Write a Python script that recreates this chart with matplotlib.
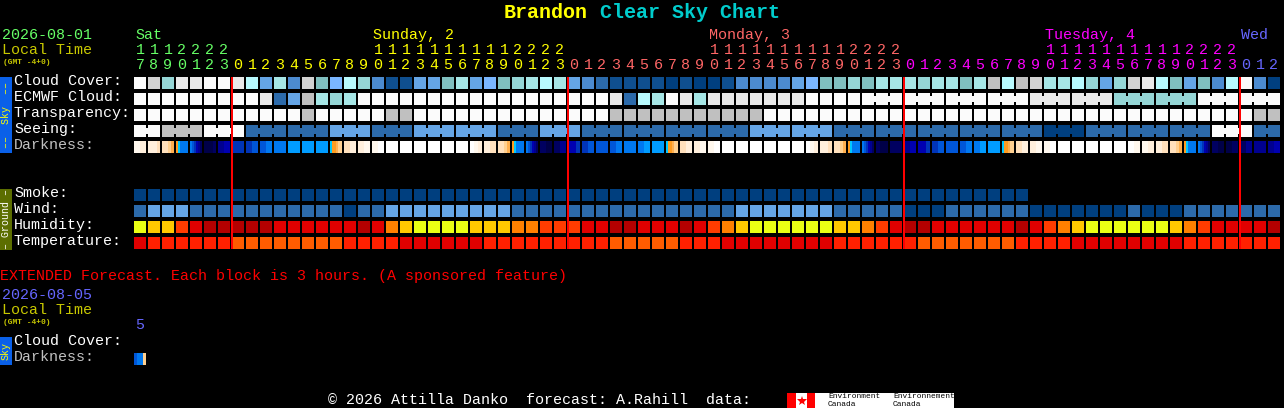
import matplotlib
matplotlib.use("Agg")
import matplotlib.pyplot as plt

# forecast blocks, one per hour, first block is 17h on Saturday
first_hour = 17
n_cols = 82

cloud = [13, 11, 8, 12, 12, 13, 13, 12, 6, 4, 7, 3, 11, 9, 5, 6, 8, 3, 1, 1, 4,
         4, 9, 7, 4, 5, 9, 8, 7, 6, 7, 4, 3, 2, 1, 1, 1, 1, 0, 1, 0, 0, 1, 3, 3,
         3, 3, 4, 5, 9, 9, 8,
         9, 7, 7, 7, 8, 7, 7, 9, 7, 10, 6, 10, 11, 7, 7, 6, 8, 4, 8, 11, 12, 6,
         9, 4, 9, 3, 6, 13, 3, 0]
ecmwf = [13] * 9 + [12, 2, 4, 10, 7, 8, 7] + [13] * 18 + [12, 2, 6, 7, 13, 12, 7]
ecmwf += [12] * 7 + [13] * 16 + [12] * 6 + [8] * 6 + [13] * 6
transparency = [13] * 12 + [10] + [13] * 5 + [10, 10] + [13] * 14 + [10] * 11
transparency += [13] * 35 + [10, 10]
seeing = [13] * 2 + [10] * 3 + [13] * 3 + [2] * 6 + [4] * 3 + [2] * 3 + [4] * 6
seeing += [2] * 3 + [4] * 3 + [2] * 12 + [4] * 6 + [2] * 15 + [0] * 3 + [2] * 9
seeing += [13] * 3 + [2] * 2
smoke = [0] * 64
wind = [2, 4, 4, 4] + [2] * 11 + [0, 2, 2] + [4] * 9 + [2] * 16 + [4] * 7 + [2] * 5
wind += [0] * 3 + [2] * 6 + [0] * 7 + [2, 0, 0, 0] + [2] * 7
humidity = "yaaFrdddddrrrrrrdrOayyyyaaaOOFFFrrddrrrdrFOayyyyyyaaOFrddrrrrrrdrFOayyyyyyaOFrrrrd"
temperature = "r" + "f" * 6 + "o" * 8 + "f" * 4 + "r" * 6 + "f" * 9 + "o" * 5 + "f" * 3
temperature += "r" * 8 + "f" * 6 + "o" * 7 + "f" * 4 + "r" * 8 + "f" * 7

darkness = ["xxcc", "cccp", "ppqo", "aimmmm", "mnrstu", "vvvu", "ts", "r", "rn", "nm",
            "m", "b", "b", "b", "iaaoqq", "ppcc", "ccxx", "xw", "w", "w",
            "w", "w", "w", "w", "wxc", "ccpp", "ppqo", "aimmmm", "mnrstu", "uv",
            "ut", "ssr", "rn", "n", "nm", "m", "mb", "b", "iaaoqq", "ppcc",
            "cx", "xw", "w", "w", "w", "w", "w", "w", "wxc", "ccp",
            "ppqo", "aimmmm", "mnrstu", "uvv", "u", "ts", "ssr", "rn", "n", "nm",
            "mb", "b", "iaaoqq", "ppcc", "cx", "xw", "w", "w", "w", "w",
            "w", "wx", "xc", "cp", "ppqo", "aimmmm", "mnrstu", "uv", "vu", "ut",
            "t", "ts"]
extended_darkness = "nmmq"

day_labels = ["Sat", "Sunday, 2", "Monday, 3", "Tuesday, 4", "Wed"]
day_label_cols = [0, 17, 41, 65, 79]
midnight_cols = [7, 31, 55, 79]
row_labels = ["Cloud Cover:", "ECMWF Cloud:", "Transparency:", "Seeing:", "Darkness:"]
ground_labels = ["Smoke:", "Wind:", "Humidity:", "Temperature:"]

# colours
sky_colors = {0: "#003f7f", 1: "#0f4f8f", 2: "#2c6aaa", 3: "#4c8bd0", 4: "#65a5e6",
              5: "#7ab6ff", 6: "#b8fafe", 7: "#a6e6e6", 8: "#95d6d6", 9: "#80bfbf",
              10: "#c0c0c0", 11: "#d2d2d2", 12: "#e9e9e9", 13: "#fbfbfb"}
hum_colors = {"y": "#eaff14", "a": "#ffc800", "O": "#ff8000", "F": "#ff3c00",
              "r": "#e00000", "d": "#b40000"}
temp_colors = {"r": "#e00000", "f": "#ff2000", "o": "#ff5c00"}
dark_colors = {"w": "#ffffff", "x": "#fff8ee", "c": "#ffefdc", "p": "#ffe0bc",
               "q": "#ffd090", "o": "#ffb050", "a": "#ff9c20", "i": "#00c8ff",
               "b": "#009cff", "m": "#0078f0", "n": "#0056d8", "r": "#0034b8",
               "s": "#0000b0", "t": "#000090", "u": "#000060", "v": "#000048"}
day_colors = ["#66ff66", "#ffff00", "#ff6666", "#ff00ff", "#6666ff"]

LEFT = 134
STEP = 14
CELL = 12
sky_tops = [77, 93, 109, 125, 141]
ground_tops = [189, 205, 221, 237]
MONO = "Liberation Mono"


def col_x(i):
    return LEFT + STEP * i


def draw_row(ax, top, values, palette):
    xs = [col_x(i) for i in range(len(values))]
    colors = [palette[v] for v in values]
    ax.bar(xs, CELL, width=CELL, bottom=top, color=colors, align="edge",
           linewidth=0, antialiased=False, zorder=2)


def draw_slices(ax, top, col, levels):
    w = CELL / len(levels)
    for k, lev in enumerate(levels):
        ax.bar(col_x(col) + k * w, CELL, width=w, bottom=top, color=dark_colors[lev],
               align="edge", linewidth=0, antialiased=False, zorder=2)


def draw_bridges(ax, top, values, start, offset):
    # 3 hour blocks are joined by a short piece in the gap
    for i in range(start, len(values) - 1):
        if (i + 1) % 3 != offset:
            ax.bar(col_x(i) + CELL, 6, width=STEP - CELL, bottom=top + 3,
                   color=sky_colors[values[i]], align="edge", linewidth=0,
                   antialiased=False, zorder=2)


def label(ax, x, y, s, color, size=10.8, **kw):
    ax.text(x, y, s, color=color, fontsize=size, family=MONO, va="center", ha="left", **kw)


fig = plt.figure(figsize=(12.84, 4.08), dpi=100, facecolor="black")
ax = fig.add_axes([0, 0, 1, 1], facecolor="black")
ax.set_xlim(0, 1284)
ax.set_ylim(408, 0)
ax.axis("off")

# title
ax.text(504, 12, "Brandon", color="#ffff00", fontsize=14.4, family=MONO,
        weight="bold", va="center", ha="left")
ax.text(600, 12, "Clear Sky Chart", color="#00cccc", fontsize=14.4, family=MONO,
        weight="bold", va="center", ha="left")

# header
label(ax, 2, 35, "2026-08-01", "#66ff66")
label(ax, 2, 50, "Local Time", "#c8c800")
label(ax, 3, 62, "(GMT -4+0)", "#c8c800", size=5.7, weight="bold")

for lab, col, c in zip(day_labels, day_label_cols, day_colors):
    label(ax, col_x(col) + 1, 35, lab, c)

day = 0
for i in range(n_cols):
    hour = (first_hour + i) % 24
    if i in midnight_cols:
        day += 1
    cx = col_x(i) + CELL / 2
    if hour >= 10:
        ax.text(cx, 50, str(hour // 10), color=day_colors[day], fontsize=10.8,
                family=MONO, va="center", ha="center")
    ax.text(cx, 65, str(hour % 10), color=day_colors[day], fontsize=10.8,
            family=MONO, va="center", ha="center")

# row names
for s, top in zip(row_labels, sky_tops):
    label(ax, 14, top + 4, s, "#c0c0c0" if s == "Darkness:" else "#ffffff")
for s, top in zip(ground_labels, ground_tops):
    label(ax, 14, top + 4, s, "#ffffff")

# side tabs
ax.bar(0, 76, width=12, bottom=77, color="#0a60e8", align="edge", linewidth=0)
ax.text(6, 115, "\u2013\u2013  Sky  \u2013\u2013", color="#ffff00", fontsize=7.2, family=MONO,
        rotation=90, va="center", ha="center")
ax.bar(0, 61, width=12, bottom=189, color="#5c6e00", align="edge", linewidth=0)
ax.text(6, 219, "\u2013 Ground \u2013", color="#ffffff", fontsize=7.2, family=MONO,
        rotation=90, va="center", ha="center")

# sky rows
draw_row(ax, sky_tops[0], cloud, sky_colors)
draw_row(ax, sky_tops[1], ecmwf, sky_colors)
draw_bridges(ax, sky_tops[1], ecmwf, 52, 1)
draw_row(ax, sky_tops[2], transparency, sky_colors)
draw_row(ax, sky_tops[3], seeing, sky_colors)
draw_bridges(ax, sky_tops[3], seeing, 0, 2)
for i, levels in enumerate(darkness):
    draw_slices(ax, sky_tops[4], i, levels)

# ground rows
draw_row(ax, ground_tops[0], smoke, sky_colors)
draw_row(ax, ground_tops[1], wind, sky_colors)
draw_row(ax, ground_tops[2], humidity, hum_colors)
draw_row(ax, ground_tops[3], temperature, temp_colors)

# midnight lines
for col in midnight_cols:
    ax.plot([col_x(col)] * 2, [77, 249], color="#ff0000", lw=1.44, zorder=3,
            solid_capstyle="butt")

# extended forecast
label(ax, 0, 276, "EXTENDED Forecast. Each block is 3 hours. (A sponsored feature)", "#ff0000")
label(ax, 2, 295, "2026-08-05", "#6666ff")
label(ax, 2, 310, "Local Time", "#c8c800")
label(ax, 3, 322, "(GMT -4+0)", "#c8c800", size=5.7, weight="bold")
label(ax, 135, 325, "5", "#6666ff")
label(ax, 14, 341, "Cloud Cover:", "#ffffff")
label(ax, 14, 357, "Darkness:", "#c0c0c0")
ax.bar(0, 28, width=12, bottom=337, color="#0a60e8", align="edge", linewidth=0)
ax.text(6, 351, "Sky", color="#ffff00", fontsize=7.2, family=MONO, rotation=90,
        va="center", ha="center")
draw_slices(ax, 353, 0, extended_darkness)

# footer
label(ax, 328, 400, "\u00a9 2026 Attilla Danko  forecast: A.Rahill  data:", "#ffffff")
ax.bar(787, 15, width=167, bottom=393, color="#ffffff", align="edge", linewidth=0)
ax.bar(787, 15, width=9, bottom=393, color="#ff0000", align="edge", linewidth=0, zorder=2)
ax.bar(807, 15, width=8, bottom=393, color="#ff0000", align="edge", linewidth=0, zorder=2)
ax.plot([801.5], [400.5], marker="*", ms=7, color="#ff0000", mew=0, zorder=3)
for x, s in zip([828, 893], ["Environment", "Environnement"]):
    ax.text(x, 397, s, color="#000000", fontsize=5.7, family=MONO, va="center", ha="left", zorder=3)
    ax.text(x, 404, "Canada", color="#000000", fontsize=5.7, family=MONO, va="center", ha="left", zorder=3)

fig.savefig("out.png", dpi=100, facecolor="black")
